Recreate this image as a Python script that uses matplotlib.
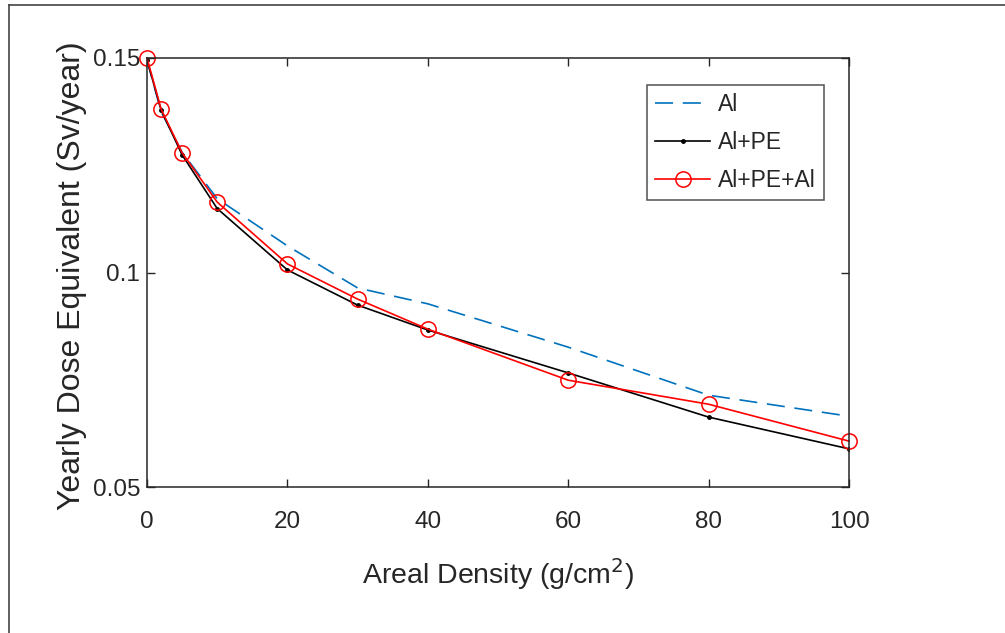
import matplotlib
matplotlib.use("Agg")
import matplotlib.pyplot as plt
from matplotlib.lines import Line2D

plt.rcParams['font.family'] = ['Liberation Sans', 'DejaVu Sans']
plt.rcParams['lines.scale_dashes'] = False

# areal density (g/cm^2)
density = [0, 2, 5, 10, 20, 30, 40, 60, 80, 100]

# yearly dose equivalent (Sv/year)
dose_al = [0.1495, 0.1375, 0.1280, 0.1172, 0.1062, 0.0964, 0.0927, 0.0826, 0.0714, 0.0665]
dose_al_pe = [0.1495, 0.1379, 0.1274, 0.1149, 0.1006, 0.0924, 0.0866, 0.0766, 0.0663, 0.0589]
dose_al_pe_al = [0.1500, 0.1381, 0.1279, 0.1164, 0.1020, 0.0938, 0.0868, 0.0749, 0.0693, 0.0607]

text_col = '#262626'

fig = plt.figure(figsize=(10.05, 6.33), dpi=100)
ax = fig.add_axes([0.1463, 0.2306, 0.6985, 0.6778])

ax.plot(density, dose_al, color='#0072BD', linestyle=(0, (13, 7)), linewidth=1.2, label='Al')
ax.plot(density, dose_al_pe, color='black', marker='.', markersize=5, linewidth=1.2, label='Al+PE')
ax.plot(density, dose_al_pe_al, color='red', marker='o', markersize=11, markerfacecolor='none',
        markeredgewidth=1.1, linewidth=1.2, label='Al+PE+Al', clip_on=False)

ax.set_xlim(0, 100)
ax.set_ylim(0.05, 0.15)
ax.set_xticks([0, 20, 40, 60, 80, 100])
ax.set_yticks([0.05, 0.1, 0.15])
ax.set_yticklabels(['0.05', '0.1', '0.15'])
ax.tick_params(direction='in', top=True, right=True, length=6, width=1,
               labelsize=17.5, labelcolor=text_col, color=text_col)
ax.tick_params(axis='x', pad=17)
ax.tick_params(axis='y', pad=5)
for sp in ax.spines.values():
    sp.set_color(text_col)
    sp.set_linewidth(1.1)

ax.set_xlabel(r'Areal Density (g/cm$^2$)', fontsize=20.5, color=text_col, labelpad=17)
ax.set_ylabel('Yearly Dose Equivalent (Sv/year)', fontsize=23, color=text_col)
ax.yaxis.set_label_coords(-0.086, 0.492)

lgd = ax.legend(loc='upper right', bbox_to_anchor=(0.9644, 0.937), borderaxespad=0,
                fontsize=16.5, frameon=True, fancybox=False, edgecolor=text_col,
                handlelength=2.4, handletextpad=0.35, borderpad=0.35, labelspacing=0.65)
lgd.get_frame().set_linewidth(1.1)
for t in lgd.get_texts():
    t.set_color(text_col)

# figure frame (top and left edges)
fig.add_artist(Line2D([9 / 1005, 1.0], [1 - 5 / 633, 1 - 5 / 633], color='#444444', linewidth=1.2))
fig.add_artist(Line2D([9 / 1005, 9 / 1005], [0.0, 1 - 5 / 633], color='#444444', linewidth=1.2))

fig.savefig('out.png', dpi=100)
